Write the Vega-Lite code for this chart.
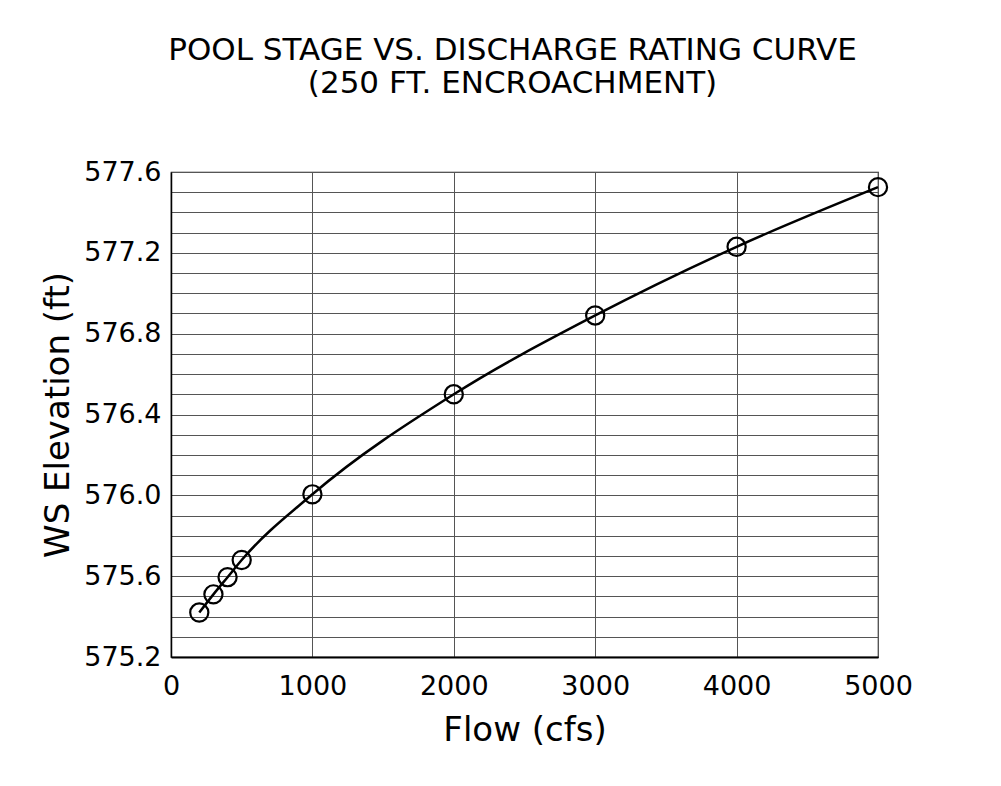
{
  "$schema": "https://vega.github.io/schema/vega-lite/v6.json",
  "width": 707,
  "height": 485,
  "autosize": {"type": "none"},
  "padding": {"left": 171, "top": 172, "right": 123, "bottom": 129},
  "background": "white",
  "title": {
    "text": "POOL STAGE VS. DISCHARGE RATING CURVE",
    "subtitle": "(250 FT. ENCROACHMENT)",
    "font": "DejaVu Sans",
    "subtitleFont": "DejaVu Sans",
    "fontSize": 31,
    "subtitleFontSize": 31,
    "fontWeight": "normal",
    "subtitleFontWeight": "normal",
    "color": "black",
    "subtitleColor": "black",
    "subtitlePadding": 2,
    "anchor": "middle",
    "frame": "group",
    "dx": -12,
    "offset": 58
  },
  "config": {
    "view": {"stroke": "#222", "strokeWidth": 1.2},
    "axis": {
      "labelFont": "DejaVu Sans",
      "titleFont": "DejaVu Sans",
      "labelColor": "black",
      "titleColor": "black",
      "labelFontSize": 27,
      "titleFontSize": 34,
      "titleFontWeight": "normal",
      "ticks": false,
      "gridColor": "#555",
      "gridWidth": 1,
      "gridOpacity": 1,
      "domainColor": "black"
    }
  },
  "data": {
    "values": [
      {"flow": 200, "ws": 575.42},
      {"flow": 300, "ws": 575.51},
      {"flow": 400, "ws": 575.595},
      {"flow": 500, "ws": 575.68},
      {"flow": 1000, "ws": 576.005},
      {"flow": 2000, "ws": 576.5},
      {"flow": 3000, "ws": 576.89},
      {"flow": 4000, "ws": 577.23},
      {"flow": 5000, "ws": 577.525}
    ]
  },
  "encoding": {
    "x": {
      "field": "flow",
      "type": "quantitative",
      "scale": {"domain": [0, 5000], "nice": false, "zero": false},
      "axis": {
        "title": "Flow (cfs)",
        "values": [0, 1000, 2000, 3000, 4000, 5000],
        "format": "d",
        "labelPadding": 16,
        "titlePadding": 14,
        "domainWidth": 2,
        "labelFlush": false
      }
    },
    "y": {
      "field": "ws",
      "type": "quantitative",
      "scale": {"domain": [575.2, 577.6], "nice": false, "zero": false},
      "axis": {
        "title": "WS Elevation (ft)",
        "values": [575.2, 575.3, 575.4, 575.5, 575.6, 575.7, 575.8, 575.9, 576.0, 576.1, 576.2, 576.3, 576.4, 576.5, 576.6, 576.7, 576.8, 576.9, 577.0, 577.1, 577.2, 577.3, 577.4, 577.5, 577.6],
        "labelExpr": "(round(datum.value*10) % 4 == 0) ? format(datum.value, '.1f') : ''",
        "labelPadding": 10,
        "titlePadding": 8,
        "domainWidth": 1.5,
        "labelFlush": false,
        "labelOverlap": false
      }
    }
  },
  "layer": [
    {
      "mark": {"type": "line", "interpolate": "monotone", "color": "black", "strokeWidth": 2.5}
    },
    {
      "mark": {"type": "point", "shape": "circle", "filled": false, "size": 330, "color": "black", "strokeWidth": 2.2, "opacity": 1}
    }
  ]
}
